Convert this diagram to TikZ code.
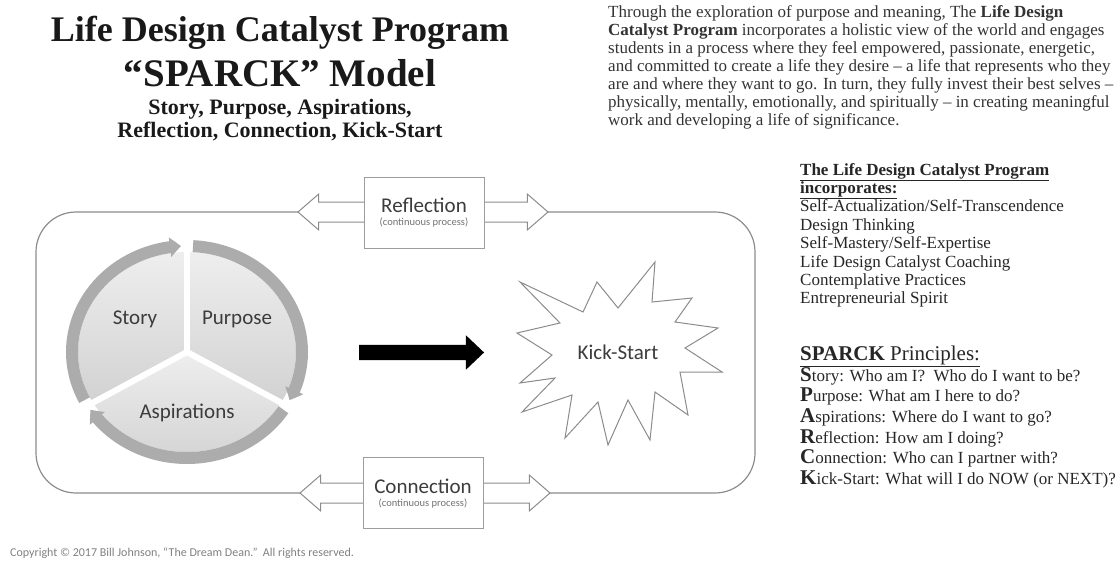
\documentclass[tikz,border=0pt]{standalone}
\usepackage{fontspec}
\setmainfont{Liberation Serif}
\newfontfamily\labelfont{Carlito}
\usetikzlibrary{positioning}
\usetikzlibrary{shapes.arrows}
\usetikzlibrary{arrows.meta}
\usetikzlibrary{bending}
\definecolor{framegray}{RGB}{140,140,140}
\definecolor{ringgray}{RGB}{172,172,172}
\definecolor{seglight}{RGB}{238,238,238}
\definecolor{segdark}{RGB}{210,210,210}
\definecolor{inkgray}{RGB}{60,60,60}
\newcommand{\fsz}[2]{\fontsize{#1}{#2}\selectfont}
\newcommand{\capletter}[1]{{\fontsize{21}{21}\selectfont\bfseries #1}}

\tikzset{
  seglabel/.style={font=\labelfont\fsz{21}{24}, text=inkgray, inner sep=0},
  notelabel/.style={font=\labelfont\fsz{10.5}{12}, text=black!55, inner sep=0},
  blockarrow/.style={double arrow, draw=framegray, fill=white, line width=1pt,
      inner sep=0, inner ysep=9.5pt, minimum width=35pt, minimum height=250pt,
      double arrow head extend=8pt, double arrow tip angle=82},
  procbox/.style={draw=framegray!85, fill=white, line width=1pt,
      minimum width=120pt, minimum height=71pt, inner sep=0},
  ring/.style={ringgray, line width=12pt, -{Triangle[bend, length=11pt, width=19pt]}},
  listtext/.style={anchor=north west, align=left, inner sep=0, text=black!85},
  headtext/.style={anchor=base, inner sep=0, text=black!90},
}

\begin{document}
\begin{tikzpicture}[x=1pt, y=-1pt]
            \useasboundingbox (0,0) rectangle (1120,562);
            % heading
            \node[headtext, font=\bfseries\fsz{36}{40}] (title) at (280,41) {Life Design Catalyst Program};
            \node[headtext, font=\bfseries\fsz{39}{42}] (model) at (280,86)  {“SPARCK” Model};
            \node[headtext, font=\bfseries\fsz{22}{24}] (sub1)  at (280,114) {Story, Purpose, Aspirations,};
            \node[headtext, font=\bfseries\fsz{22}{24}] (sub2)  at (280,137) {Reflection, Connection, Kick-Start};
            % intro text
            \node[listtext, text=black!80, font=\fsz{17}{18}] (intro) at (608,5)
                 {Through the exploration of purpose and meaning, The \textbf{Life Design}\\
                  \textbf{Catalyst Program} incorporates a holistic view of the world and engages\\
                  students in a process where they feel empowered, passionate, energetic,\\
                  and committed to create a life they desire – a life that represents who they\\
                  are and where they want to go. In turn, they fully invest their best selves –\\
                  physically, mentally, emotionally, and spiritually – in creating meaningful\\
                  work and developing a life of significance.};
            % right lists
            \node[listtext, font=\fsz{17}{18.4}] (incl) at (800,163)
                 {\underline{\textbf{The Life Design Catalyst Program}}\\
                  \underline{\textbf{incorporates:}}\\
                  Self-Actualization/Self-Transcendence\\
                  Design Thinking\\
                  Self-Mastery/Self-Expertise\\
                  Life Design Catalyst Coaching\\
                  Contemplative Practices\\
                  Entrepreneurial Spirit};
            \node[listtext, font=\fsz{17}{20.6}] (prin) at (800,346)
                 {\underline{{\fsz{21}{21}\textbf{SPARCK} Principles:}}\\
                  \capletter{S}tory: Who am I?\enspace Who do I want to be?\\
                  \capletter{P}urpose: What am I here to do?\\
                  \capletter{A}spirations: Where do I want to go?\\
                  \capletter{R}eflection: How am I doing?\\
                  \capletter{C}onnection: Who can I partner with?\\
                  \capletter{K}ick-Start: What will I do NOW (or NEXT)?};
            % frame
            \draw[framegray, line width=1.2pt, rounded corners=40pt] (36,212) rectangle (755,493);
            \node[blockarrow] (reflarrow) at (423,212) {};
            \node[blockarrow] (connarrow) at (425,493) {};
            \node[procbox] (reflbox) at (424,212.5) {};
            \node[procbox] (connbox) at (423,492.5) {};
            \node[seglabel] (reflname) at (424,205) {Reflection};
            \node[notelabel, below=5pt of reflname] (reflnote) {(continuous process)};
            \node[seglabel] (connname) at (423,486) {Connection};
            \node[notelabel, below=5pt of connname] (connnote) {(continuous process)};
            % cycle
            \coordinate (hub) at (187,352);
            \shade[top color=seglight, bottom color=segdark] (hub) -- ++(-210:109 and 100)
                 arc[start angle=-210, end angle=-90, x radius=109, y radius=100] -- cycle;
            \shade[top color=seglight, bottom color=segdark] (hub) -- ++(-90:109 and 100)
                 arc[start angle=-90, end angle=30, x radius=109, y radius=100] -- cycle;
            \shade[top color=seglight, bottom color=gray!35] (hub) -- ++(30:109 and 100)
                 arc[start angle=30, end angle=150, x radius=109, y radius=100] -- cycle;
            \foreach \a in {-90,30,150}
                 \draw[white, line width=6pt] (hub) -- ++(\a:132 and 123);
            \draw[ring] (hub) ++(-207:115 and 106) arc[start angle=-207, end angle=-93, x radius=115, y radius=106];
            \draw[ring] (hub) ++(-87:115 and 106)  arc[start angle=-87, end angle=27, x radius=115, y radius=106];
            \draw[ring] (hub) ++(33:115 and 106)   arc[start angle=33, end angle=147, x radius=115, y radius=106];
            \node[seglabel] (story)   at (135,319) {Story};
            \node[seglabel] (purpose) at (237,319) {Purpose};
            \node[seglabel] (aspire)  at (187,413) {Aspirations};
            % push arrow
            \node[single arrow, fill=black, inner sep=0, inner ysep=7.5pt, minimum width=34pt, minimum height=125pt,
                  single arrow head extend=9.5pt, single arrow tip angle=87] (push) at (417.5,352.5) {};
            % kick-start burst
            \draw[framegray, line width=1pt, fill=white]
                 (520,282) -- (583,312) -- (597,282) -- (618,308) -- (655,262) -- (652,302)
              -- (692,298) -- (675,322) -- (718,328) -- (685,348) -- (722,372) -- (680,372)
              -- (688,415) -- (655,392) -- (650,440) -- (628,400) -- (608,445) -- (598,402)
              -- (565,438) -- (572,395) -- (522,412) -- (555,378) -- (520,383) -- (552,355)
              -- (517,333) -- (560,323) -- cycle;
            \node[seglabel] (kick) at (618,352) {Kick-Start};
            % footer
            \node[anchor=west, font=\labelfont\fsz{12}{14}, text=black!50, inner sep=0] (copy) at (10,553)
                 {Copyright © 2017 Bill Johnson, “The Dream Dean.”\ \ All rights reserved.};
\end{tikzpicture}
\end{document}
